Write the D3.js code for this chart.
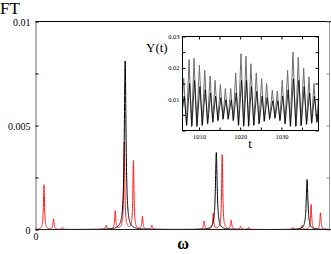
<!DOCTYPE html>
<html><head><meta charset="utf-8">
<script src="https://cdn.jsdelivr.net/npm/d3@7"></script>
<style>html,body{margin:0;padding:0;background:#fff}svg{display:block}</style>
</head><body>
<svg id="c" width="331" height="254"></svg>
<script>
// ---- main spectrum data (peak positions in ω, heights in FT units) ----
const blackPeakW = [4.88, 9.84, 14.78];
const blackPeakH = [0.0081, 0.0037, 0.0024];
const redPeakW = [0.46, 0.98, 1.46, 3.85, 4.34, 4.83, 5.33, 5.82, 6.33, 9.18, 9.67, 10.16, 10.65, 11.16, 11.6, 14.0, 14.5, 15.0, 15.51];
const redPeakH = [0.00215, 0.0005, 0.0001, 0.0002, 0.00088, 0.0042, 0.0033, 0.00062, 0.0002, 0.0004, 0.00077, 0.0036, 0.00043, 0.00015, 0.0001, 0.0001, 0.0002, 0.0012, 0.0008];
const mainYTicks = [0, 0.0025, 0.005, 0.0075, 0.01];
const mainYLabels = ["0", "", "0.005", "", "0.01"];
const mainXTicks = [0];
const mainXLabels = ["0"];

// ---- inset time series data ----
const insetPeakT = [1006.3, 1007.6, 1008.8, 1010.1, 1011.4, 1012.7, 1013.9, 1015.2, 1016.4, 1017.7, 1018.9, 1020.2, 1021.4, 1022.6, 1023.9, 1025.2, 1026.4, 1027.8, 1029.0, 1030.2, 1031.5, 1032.8, 1034.1, 1035.4, 1036.7, 1037.9, 1039.2];
const insetPeakY = [0.0166, 0.0226, 0.023, 0.0208, 0.0192, 0.0174, 0.016, 0.0147, 0.0134, 0.0134, 0.0184, 0.0245, 0.0237, 0.0213, 0.0184, 0.0166, 0.015, 0.0129, 0.0126, 0.016, 0.0192, 0.025, 0.0234, 0.02, 0.0171, 0.015, 0.014];
const insetTroughY = [0.004, 0.0015, 0.0012, 0.0012, 0.0015, 0.002, 0.0025, 0.003, 0.0035, 0.0035, 0.003, 0.0015, 0.0012, 0.0012, 0.0015, 0.002, 0.0028, 0.0035, 0.0038, 0.003, 0.002, 0.0012, 0.0012, 0.0014, 0.0018, 0.0022, 0.0025, 0.003];
const insetShoulderY = [0.011, 0.015, 0.016, 0.014, 0.013, 0.012, 0.011, 0.0105, 0.0098, 0.0098, 0.012, 0.016, 0.016, 0.014, 0.0125, 0.011, 0.0105, 0.0095, 0.0095, 0.011, 0.013, 0.0165, 0.016, 0.014, 0.012, 0.011, 0.0095];
const insetYTicks = [0, 0.005, 0.01, 0.015, 0.02, 0.025, 0.03];
const insetYLabels = ["", "", "0.01", "", "0.02", "", "0.03"];
const insetXTicks = [1010, 1015, 1020, 1025, 1030, 1035];
const insetXLabels = ["1010", "", "1020", "", "1030", ""];

const svg = d3.select("#c");
const serif = "'Liberation Serif','DejaVu Serif',serif";

// ---------- main plot ----------
const x = d3.scaleLinear([0, 16], [35.5, 329.5]);
const y = d3.scaleLinear([0, 0.01], [229.5, 21.5]);

svg.append("defs").append("clipPath").attr("id", "clipMain")
  .append("rect").attr("x", 35).attr("y", 21).attr("width", 296).attr("height", 209);

function spectrum(ws, hs, g) {
  const pts = [];
  for (let i = 0; i <= 4000; i++) {
    const w = i * 0.004;
    let v = 0;
    for (let k = 0; k < ws.length; k++) { const d = (w - ws[k]) / g; v += hs[k] / (1 + d * d); }
    pts.push([w, v]);
  }
  return pts;
}
const line = d3.line().x(d => x(d[0])).y(d => y(d[1]));
const gc = svg.append("g").attr("clip-path", "url(#clipMain)");
gc.append("path").attr("d", line(spectrum(redPeakW, redPeakH, 0.035)))
  .attr("fill", "none").attr("stroke", "#ff1a1a").attr("stroke-width", 1);
gc.append("path").attr("d", line(spectrum(blackPeakW, blackPeakH, 0.055)))
  .attr("fill", "none").attr("stroke", "#000").attr("stroke-width", 1);

// frame
svg.append("line").attr("x1", 35.5).attr("x2", 331).attr("y1", 21.5).attr("y2", 21.5).attr("stroke", "#000");
svg.append("line").attr("x1", 329.5).attr("x2", 329.5).attr("y1", 21.5).attr("y2", 230).attr("stroke", "#999");

const ya = d3.axisLeft(y).tickValues(mainYTicks).tickSize(-3).tickPadding(5)
  .tickFormat((d, i) => mainYLabels[i]);
const gy = svg.append("g").attr("transform", "translate(35.5,0)").call(ya);
gy.select(".domain").attr("stroke", "#7a6666");
gy.selectAll("text").attr("font-family", serif).attr("font-size", 10).attr("fill", "#000").attr("dy", "0.35em");
gy.selectAll(".tick line").attr("stroke", "#000");

const yr = d3.axisRight(y).tickValues(mainYTicks).tickSize(-3).tickFormat("");
const gyr = svg.append("g").attr("transform", "translate(329.5,0)").call(yr);
gyr.select(".domain").remove();
gyr.selectAll(".tick line").attr("stroke", "#888");

const xa = d3.axisBottom(x).tickValues(mainXTicks).tickSize(0).tickPadding(3)
  .tickFormat((d, i) => mainXLabels[i]);
const gx = svg.append("g").attr("transform", "translate(0,229.5)").call(xa);
gx.select(".domain").attr("stroke", "#222").attr("d", "M35.5,0H331");
gx.selectAll("text").attr("font-family", serif).attr("font-size", 10).attr("fill", "#000");

svg.append("text").attr("x", 0).attr("y", 14).attr("font-family", serif).attr("font-size", 17).text("FT");
svg.append("text").attr("x", 183).attr("y", 249).attr("text-anchor", "middle")
  .attr("font-family", serif).attr("font-size", 16).attr("font-weight", "bold").text("ω");

// ---------- inset ----------
const x2 = d3.scaleLinear([1006, 1039], [182.5, 318.5]);
const y2 = d3.scaleLinear([0, 0.03], [130.5, 36.5]);
svg.append("rect").attr("x", 182.5).attr("y", 36.5).attr("width", 136).attr("height", 94)
  .attr("fill", "#fff");
svg.append("defs").append("clipPath").attr("id", "clipInset")
  .append("rect").attr("x", 182.5).attr("y", 36.5).attr("width", 136).attr("height", 94);

const grayPts = [], blackPts = [];
for (let i = 0; i < insetPeakT.length; i++) {
  const tPrev = i === 0 ? insetPeakT[0] - 1.3 : insetPeakT[i - 1];
  const tm = (tPrev + insetPeakT[i]) / 2;
  grayPts.push([tm, insetTroughY[i]]);
  grayPts.push([insetPeakT[i], insetPeakY[i]]);
  blackPts.push([tm + 0.08, insetTroughY[i] + 0.0003]);
  blackPts.push([insetPeakT[i] + 0.12, insetShoulderY[i]]);
}
grayPts.push([insetPeakT[insetPeakT.length - 1] + 0.65, insetTroughY[insetTroughY.length - 1]]);
const line2 = d3.line().x(d => x2(d[0])).y(d => y2(d[1]));
const gi = svg.append("g").attr("clip-path", "url(#clipInset)");
gi.append("path").attr("d", line2(grayPts)).attr("fill", "none").attr("stroke", "#6e6e6e").attr("stroke-width", 1);
gi.append("path").attr("d", line2(blackPts)).attr("fill", "none").attr("stroke", "#000").attr("stroke-width", 0.8);

svg.append("rect").attr("x", 182.5).attr("y", 36.5).attr("width", 136).attr("height", 94)
  .attr("fill", "none").attr("stroke", "#000");

const fs2 = 6.5;
const iyl = d3.axisLeft(y2).tickValues(insetYTicks).tickSize(-3).tickPadding(3).tickFormat((d, i) => insetYLabels[i]);
const giy = svg.append("g").attr("transform", "translate(182.5,0)").call(iyl);
giy.select(".domain").remove();
giy.selectAll("text").attr("font-family", serif).attr("font-size", fs2).attr("fill", "#000");
const iyr = d3.axisRight(y2).tickValues(insetYTicks).tickSize(-3).tickFormat("");
svg.append("g").attr("transform", "translate(318.5,0)").call(iyr).select(".domain").remove();
const ixb = d3.axisBottom(x2).tickValues(insetXTicks).tickSize(-3).tickPadding(4).tickFormat((d, i) => insetXLabels[i]);
const gix = svg.append("g").attr("transform", "translate(0,130.5)").call(ixb);
gix.select(".domain").remove();
gix.selectAll("text").attr("font-family", serif).attr("font-size", fs2).attr("fill", "#000");
const ixt = d3.axisTop(x2).tickValues(insetXTicks).tickSize(-3).tickFormat("");
svg.append("g").attr("transform", "translate(0,36.5)").call(ixt).select(".domain").remove();

svg.append("text").attr("x", 146).attr("y", 52).attr("font-family", serif).attr("font-size", 13).text("Y(t)");
svg.append("text").attr("x", 250).attr("y", 148).attr("text-anchor", "middle").attr("font-family", serif).attr("font-size", 13).text("t");
</script>
</body></html>
